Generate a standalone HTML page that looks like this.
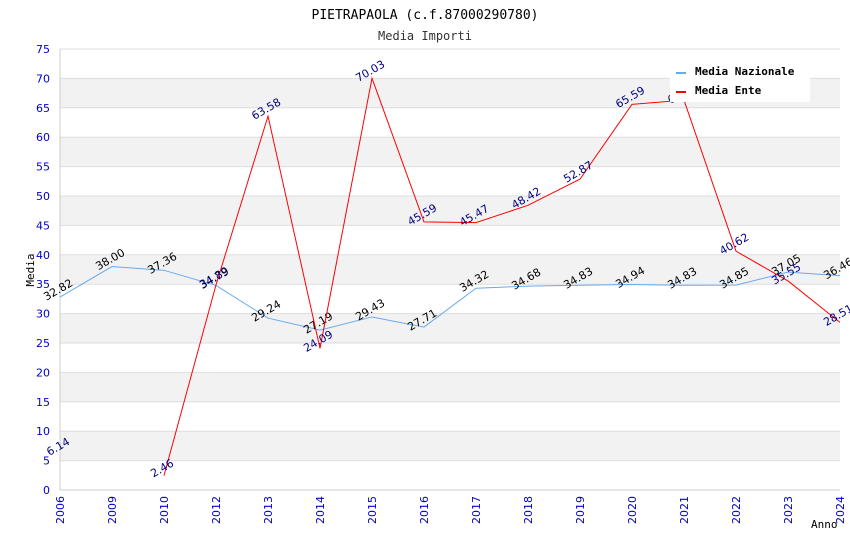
<!DOCTYPE html>
<html><head><meta charset="utf-8"><style>
body{margin:0;background:#fff}
svg{display:block;font-family:"DejaVu Sans Mono","Liberation Mono",monospace}
.s{font-family:"DejaVu Sans","Liberation Sans",sans-serif}
</style></head><body>
<svg id="c" width="850" height="550"></svg>
<script>
const years=["2006","2009","2010","2012","2013","2014","2015","2016","2017","2018","2019","2020","2021","2022","2023","2024"];
const nazionale=[32.82,38.00,37.36,34.79,29.24,27.19,29.43,27.71,34.32,34.68,34.83,34.94,34.83,34.85,37.05,36.46];
const ente=[6.14,null,2.46,34.89,63.58,24.09,70.03,45.59,45.47,48.42,52.87,65.59,66.3,40.62,35.55,28.51];
const yTicks=[0,5,10,15,20,25,30,35,40,45,50,55,60,65,70,75];
const NS="http://www.w3.org/2000/svg";
const svg=document.getElementById('c');
const L=60,R=840,T=49,B=490,YMAX=75;
const x=i=>L+i*(R-L)/(years.length-1);
const y=v=>B-v/YMAX*(B-T);
function mk(t,a,p){const e=document.createElementNS(NS,t);for(const k in a)e.setAttribute(k,a[k]);(p||svg).appendChild(e);return e;}
for(let i=0;i<yTicks.length-1;i++){
  const b=mk('rect',{x:L,y:y(yTicks[i+1]),width:R-L,height:y(yTicks[i])-y(yTicks[i+1]),fill:i%2?'#f2f2f2':'#fff'});
  
  
}
yTicks.forEach(v=>{
  const g=mk('line',{x1:L,x2:R,y1:y(v),y2:y(v),stroke:'#ddd'});
  
  
  const t=mk('text',{x:L-10,y:y(v)+4,'text-anchor':'end','font-size':11,fill:'#0000cc',class:'s'});t.textContent=v;
  
  
});
mk('line',{x1:L,x2:L,y1:T,y2:B,stroke:'#ccc'});
mk('line',{x1:L,x2:R,y1:B,y2:B,stroke:'#ccc'});
years.forEach((yr,i)=>{
  const t=mk('text',{transform:`translate(${x(i)+4},${B+6}) rotate(-90)`,'text-anchor':'end','font-size':11,fill:'#0000cc',class:'s'});t.textContent=yr;
  
  
});
function series(vals,color,lab,name){
  let d='',pen=false;
  vals.forEach((v,i)=>{if(v==null){pen=false;return;}d+=(pen?'L':'M')+x(i)+','+y(v);pen=true;});
  const p=mk('path',{d,fill:'none',stroke:color,'stroke-width':1});
  
  
  vals.forEach((v,i)=>{if(v==null)return;
    const t=mk('text',{transform:`translate(${x(i)},${y(v)-4}) rotate(-30)`,'text-anchor':'middle','font-size':11,fill:lab,class:'s'});t.textContent=v.toFixed(2);
    
    
  });
}
series(nazionale,'#66aaee','#000','nazionale');
series(ente,'#ff0000','#000080','ente');
const tt=mk('text',{x:425,y:19,'text-anchor':'middle','font-size':13,fill:'#000'});tt.textContent='PIETRAPAOLA (c.f.87000290780)';

const st=mk('text',{x:425,y:40,'text-anchor':'middle','font-size':12,fill:'#333'});st.textContent='Media Importi';

const yl=mk('text',{transform:'translate(34,270) rotate(-90)','text-anchor':'middle','font-size':11,fill:'#000'});yl.textContent='Media';

const xl=mk('text',{x:811,y:528,'font-size':11,fill:'#000'});xl.textContent='Anno';

const lg=mk('g',{});
mk('rect',{x:670,y:58,width:140,height:44,fill:'#fff'},lg);
[['Media Nazionale','#66aaee',72],['Media Ente','#ff0000',91]].forEach(([n,c,yy])=>{
  const g=mk('g',{},lg);
  mk('rect',{x:676,y:yy,width:10,height:2,fill:c},g);
  const t=mk('text',{x:695,y:yy+3,'font-size':11,'font-weight':'bold',fill:'#000'},g);t.textContent=n;
});
</script>
</body></html>
